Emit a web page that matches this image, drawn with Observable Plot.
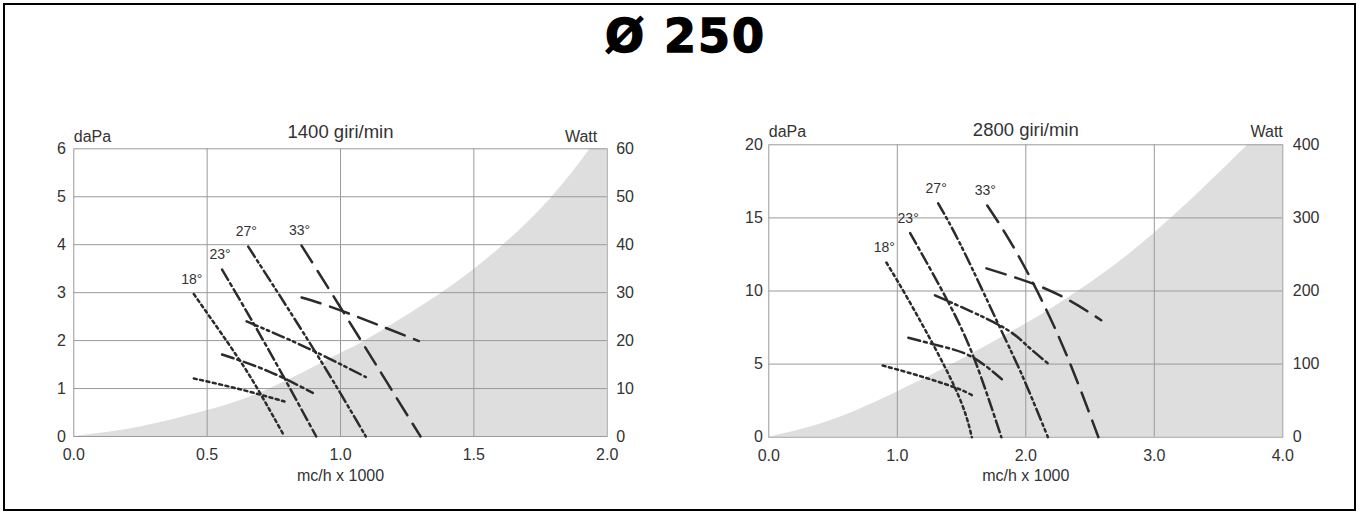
<!DOCTYPE html>
<html>
<head>
<meta charset="utf-8">
<script src="https://cdn.jsdelivr.net/npm/d3@7"></script>
<script src="https://cdn.jsdelivr.net/npm/@observablehq/plot@0.6"></script>
<style>
  html, body { margin: 0; padding: 0; background: #fff; }
  #page { position: relative; width: 1359px; height: 515px; overflow: hidden; background: #fff; }
  #border { position: absolute; left: 3px; top: 3px; width: 1353px; height: 508px; box-sizing: border-box; border: 2px solid #000; }
  #title { position: absolute; left: 6px; width: 1359px; top: 13px; text-align: center;
           font-family: "DejaVu Sans", sans-serif; font-weight: 900; font-size: 46px; line-height: 46px;
           letter-spacing: 2px; -webkit-text-stroke: 1.4px #000; color: #000; }
  .chart { position: absolute; top: 110px; }
</style>
</head>
<body>
<div id="page">
  <div id="border"></div>
  <div id="title">Ø 250</div>
  <div id="left" class="chart" style="left:0px"></div>
  <div id="right" class="chart" style="left:680px"></div>
</div>
<script>
// ---------- Data: 1400 giri/min ----------
const title1400 = "1400 giri/min";
const xTicks1400 = [0, 0.5, 1.0, 1.5, 2.0];
const dapaTicks1400 = [0, 1, 2, 3, 4, 5, 6];
const wattTicks1400 = [0, 10, 20, 30, 40, 50, 60];
const angles = ["18°", "23°", "27°", "33°"];
// pressure curves [mc/h x 1000, daPa]
const pres1400_18 = [[0.45, 2.97], [0.61, 1.69], [0.70, 0.89], [0.79, 0]];
const pres1400_23 = [[0.556, 3.48], [0.725, 1.86], [0.909, 0]];
const pres1400_27 = [[0.654, 3.96], [0.906, 1.76], [1.095, 0]];
const pres1400_33 = [[0.854, 3.98], [1.0, 2.69], [1.30, 0]];
// power curves [mc/h x 1000, Watt]
const watt1400_18 = [[0.45, 12.1], [0.62, 9.9], [0.79, 7.3]];
const watt1400_23 = [[0.556, 17.1], [0.73, 13.6], [0.896, 9.1]];
const watt1400_27 = [[0.648, 24.0], [0.87, 18.6], [1.095, 12.4]];
const watt1400_33 = [[0.854, 29.0], [1.0, 26.3], [1.294, 19.9]];
// shaded power envelope [mc/h x 1000, Watt] (last point runs past the frame top)
const shade1400 = [[0, 0], [0.25, 2.0], [0.5, 5.4], [0.7375, 10], [1.0, 17.3], [1.094, 20], [1.381, 30], [1.612, 40], [1.794, 50], [1.937, 60], [2.0, 65]];

// ---------- Data: 2800 giri/min ----------
const title2800 = "2800 giri/min";
const xTicks2800 = [0, 1, 2, 3, 4];
const dapaTicks2800 = [0, 5, 10, 15, 20];
const wattTicks2800 = [0, 100, 200, 300, 400];
const pres2800_18 = [[0.915, 11.95], [1.125, 8.8], [1.448, 3.4], [1.58, 0]];
const pres2800_23 = [[1.10, 13.96], [1.396, 9.25], [1.604, 5.25], [1.81, 0]];
const pres2800_27 = [[1.318, 16.0], [1.513, 12.8], [1.797, 7.53], [1.978, 4.1], [2.172, 0]];
const pres2800_33 = [[1.70, 15.85], [1.94, 12.45], [2.263, 6.74], [2.565, 0]];
const watt2800_18 = [[0.886, 98], [1.151, 85], [1.448, 68], [1.586, 57]];
const watt2800_23 = [[1.086, 136], [1.35, 124], [1.59, 109], [1.836, 76]];
const watt2800_27 = [[1.293, 194], [1.797, 153], [2.005, 126], [2.172, 101]];
const watt2800_33 = [[1.694, 231], [2.056, 210], [2.34, 187], [2.587, 160]];
const shade2800 = [[0, 0], [0.5, 24], [1.0, 62], [1.434, 100], [2.0, 155], [2.41, 200], [3.0, 279], [3.73, 400], [4.0, 449]];

const xLabel = "mc/h x 1000";
const yLabelLeft = "daPa";
const yLabelRight = "Watt";

// ---------- Styles ----------
const dashes = ["3,3.5", "12,4,3,4", "12,4,2.5,3.5,2.5,4", "20,10"];
const ink = "#2b2b2b";
const gridColor = "#9a9a9a";
const font = "'Liberation Sans', Arial, Helvetica, sans-serif";

function chart(cfg) {
  const k = cfg.wattTicks[cfg.wattTicks.length - 1] / cfg.dapaTicks[cfg.dapaTicks.length - 1];
  const marks = [];
  marks.push(Plot.areaY(cfg.shade, {x: d => d[0], y: d => d[1] / k, fill: "#dedede", curve: "natural", clip: true}));
  marks.push(Plot.gridX(cfg.xTicks.slice(1, -1), {stroke: gridColor, strokeOpacity: 1, strokeWidth: 1}));
  marks.push(Plot.gridY(cfg.dapaTicks.slice(1, -1), {stroke: gridColor, strokeOpacity: 1, strokeWidth: 1}));
  marks.push(Plot.frame({stroke: gridColor, strokeWidth: 1}));
  cfg.pres.forEach((s, i) => {
    marks.push(Plot.line(s, {x: d => d[0], y: d => d[1], stroke: ink, strokeWidth: 2.5, strokeDasharray: dashes[i], curve: "natural"}));
  });
  cfg.watt.forEach((s, i) => {
    marks.push(Plot.line(s, {x: d => d[0], y: d => d[1] / k, stroke: ink, strokeWidth: 2.5, strokeDasharray: dashes[i], curve: "natural"}));
  });
  const starts = cfg.pres.map((s, i) => ({angle: angles[i], x: s[0][0], y: s[0][1]}));
  marks.push(Plot.text(starts, {x: "x", y: "y", text: "angle", dy: -15, dx: -2, fontSize: 14, fill: "#333"}));
  marks.push(Plot.axisX(cfg.xTicks, {tickSize: 0, tickPadding: 12, tickFormat: d3.format(".1f"), fontSize: 16, fill: "#333"}));
  marks.push(Plot.axisY(cfg.dapaTicks, {anchor: "left", tickSize: 0, tickPadding: cfg.padL, fontSize: 16, fill: "#333"}));
  marks.push(Plot.axisY(cfg.wattTicks.map(w => w / k), {anchor: "right", tickSize: 0, tickPadding: cfg.padR, tickFormat: d => String(Math.round(d * k)), fontSize: 16, fill: "#333"}));
  marks.push(Plot.text([cfg.title], {frameAnchor: "top", lineAnchor: "bottom", dy: cfg.titleDy, fontSize: 18.5, letterSpacing: "0.5px", fill: "#333"}));
  marks.push(Plot.text([yLabelLeft], {frameAnchor: "top-left", textAnchor: "start", lineAnchor: "bottom", dy: cfg.labDy, fontSize: 16, fill: "#333"}));
  marks.push(Plot.text([yLabelRight], {frameAnchor: "top-right", textAnchor: "end", lineAnchor: "bottom", dy: cfg.labDy, dx: cfg.wattDx, fontSize: 16, fill: "#333"}));
  marks.push(Plot.text([xLabel], {frameAnchor: "bottom", lineAnchor: "bottom", dy: 44, fontSize: 16, letterSpacing: "0.5px", fill: "#333"}));
  return Plot.plot({
    width: cfg.width, height: 380,
    marginLeft: cfg.mL, marginRight: cfg.mR, marginTop: cfg.mT, marginBottom: cfg.mB,
    x: {domain: [cfg.xTicks[0], cfg.xTicks[cfg.xTicks.length - 1]], label: null},
    y: {domain: [cfg.dapaTicks[0], cfg.dapaTicks[cfg.dapaTicks.length - 1]], label: null},
    style: {fontFamily: font, fontSize: "16px", color: "#333", background: "transparent", overflow: "visible"},
    marks
  });
}

document.getElementById("left").append(chart({
  title: title1400, xTicks: xTicks1400, dapaTicks: dapaTicks1400, wattTicks: wattTicks1400,
  pres: [pres1400_18, pres1400_23, pres1400_27, pres1400_33],
  watt: [watt1400_18, watt1400_23, watt1400_27, watt1400_33],
  shade: shade1400,
  width: 680, mL: 73.3, mR: 73.3, mT: 38.3, mB: 54,
  padL: 8, padR: 9, titleDy: -11, labDy: -7, wattDx: -10
}));
document.getElementById("right").append(chart({
  title: title2800, xTicks: xTicks2800, dapaTicks: dapaTicks2800, wattTicks: wattTicks2800,
  pres: [pres2800_18, pres2800_23, pres2800_27, pres2800_33],
  watt: [watt2800_18, watt2800_23, watt2800_27, watt2800_33],
  shade: shade2800,
  width: 679, mL: 88.3, mR: 76.7, mT: 34.3, mB: 53.3,
  padL: 6, padR: 10, titleDy: -9, labDy: -8, wattDx: 0
}));
</script>
</body>
</html>
